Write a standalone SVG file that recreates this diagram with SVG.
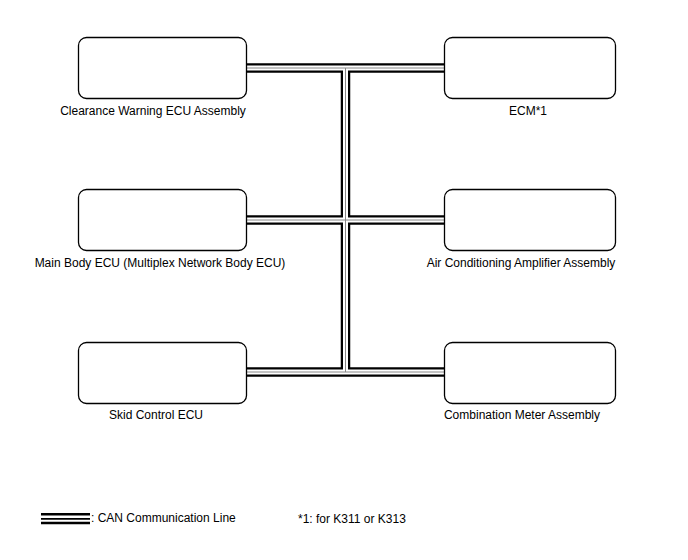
<svg xmlns="http://www.w3.org/2000/svg" width="688" height="560" viewBox="0 0 688 560">
<style>
.box{fill:#fff;stroke:#000;stroke-width:1.3}
.lbl{font-family:"Liberation Sans",Arial,sans-serif;font-size:12px;fill:#000}
.b1{fill:none;stroke:#000;stroke-width:9.5}
.b2{fill:none;stroke:#fff;stroke-width:5}
.b3{fill:none;stroke:#888;stroke-width:1}
</style>
<rect width="688" height="560" fill="#fff"/>
<g id="connectors">
<path id="bus" class="b1" d="M246.5 68H444.5M246.5 220H444.5M246.5 372H444.5M345.5 68V372"/>
<path class="b2" d="M246.5 68H444.5M246.5 220H444.5M246.5 372H444.5M345.5 68V372"/>
<path class="b3" d="M246.5 68H444.5M246.5 220H444.5M246.5 372H444.5M345.5 68V372"/>
</g>
<g id="n1"><rect class="box" x="78.5" y="37.5" width="168" height="61" rx="8"/><text class="lbl" x="153" y="115" text-anchor="middle">Clearance Warning ECU Assembly</text></g>
<g id="n2"><rect class="box" x="444.5" y="37.5" width="171" height="61" rx="8"/><text class="lbl" x="528" y="115" text-anchor="middle">ECM*1</text></g>
<g id="n3"><rect class="box" x="78.5" y="189.5" width="168" height="61" rx="8"/><text class="lbl" x="160" y="267" text-anchor="middle">Main Body ECU (Multiplex Network Body ECU)</text></g>
<g id="n4"><rect class="box" x="444.5" y="189.5" width="171" height="61" rx="8"/><text class="lbl" x="521" y="267" text-anchor="middle">Air Conditioning Amplifier Assembly</text></g>
<g id="n5"><rect class="box" x="78.5" y="342.5" width="168" height="61" rx="8"/><text class="lbl" x="156" y="419" text-anchor="middle">Skid Control ECU</text></g>
<g id="n6"><rect class="box" x="444.5" y="342.5" width="171" height="61" rx="8"/><text class="lbl" x="522" y="419" text-anchor="middle">Combination Meter Assembly</text></g>
<g id="legend">
<path d="M41 514.2H90" stroke="#000" stroke-width="2.4"/>
<path d="M41 518.8H90" stroke="#000" stroke-width="1.8"/>
<path d="M41 523H90" stroke="#000" stroke-width="2.4"/>
<text class="lbl" x="91" y="522">: CAN Communication Line</text>
<text class="lbl" x="298" y="523">*1: for K311 or K313</text>
</g>
</svg>
